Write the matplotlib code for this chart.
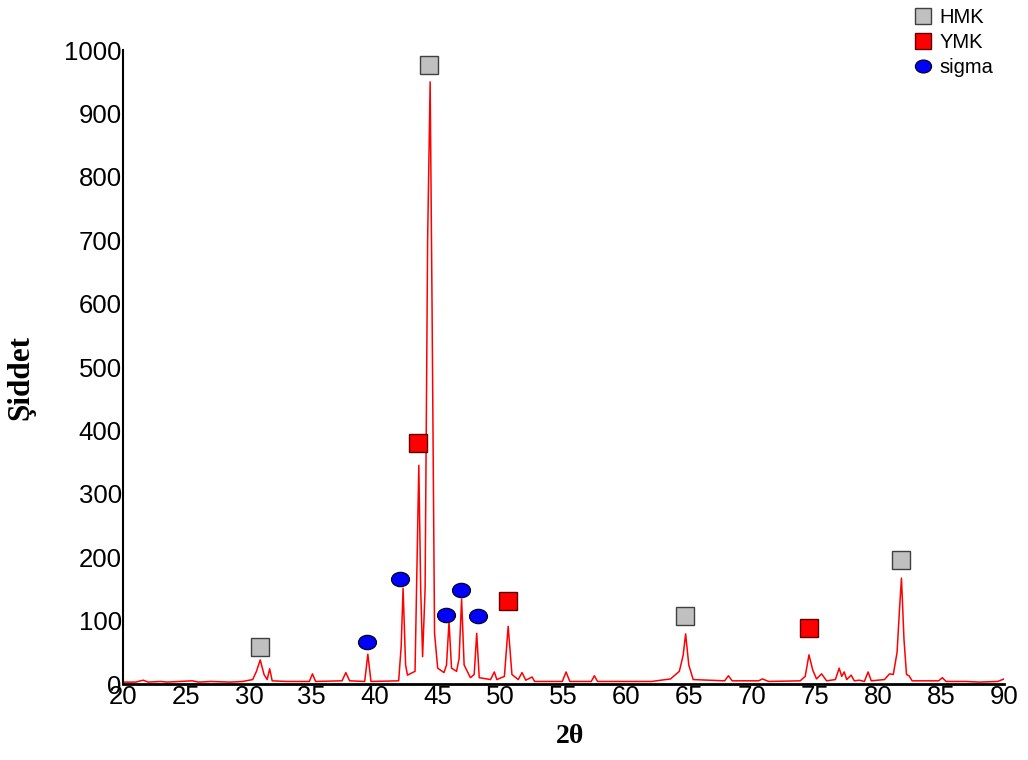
import numpy as np
import matplotlib
matplotlib.use("Agg")
import matplotlib.pyplot as plt
from matplotlib.path import Path

# XRD deseni (2theta, siddet) - resimden okunan noktalar
two_theta = [20.0, 21.0, 21.6, 22.0, 23.0, 23.5, 24.5, 25.5, 26.0, 27.0, 28.5, 29.5,
             30.3, 30.6, 30.9, 31.2, 31.45, 31.65, 31.85, 33.0, 34.8, 35.05, 35.3,
             37.4, 37.7, 38.0, 39.2, 39.45, 39.7, 41.9, 42.1, 42.25, 42.45, 42.6,
             43.2, 43.5, 43.65, 43.8, 44.0, 44.2, 44.4, 44.55, 44.75, 45.0, 45.5,
             45.7, 45.9, 46.1, 46.5, 46.7, 46.9, 47.1, 47.6, 47.9, 48.1, 48.3,
             49.2, 49.5, 49.7, 50.3, 50.6, 50.9, 51.4, 51.7, 52.0, 52.5, 52.7,
             54.9, 55.2, 55.5, 57.2, 57.45, 57.7, 60.0, 62.0, 63.5, 64.2, 64.5,
             64.7, 64.95, 65.3, 67.8, 68.1, 68.4, 70.5, 70.8, 71.3, 73.8, 74.2,
             74.5, 74.8, 75.1, 75.5, 75.9, 76.6, 76.9, 77.1, 77.3, 77.5, 77.85,
             78.1, 78.5, 78.9, 79.2, 79.45, 80.5, 80.9, 81.2, 81.5, 81.7, 81.85,
             82.05, 82.25, 82.45, 82.7, 84.8, 85.1, 85.4, 87.0, 88.0, 89.5, 90.0]
intensity = [3, 3, 6, 3, 4, 3, 4, 5, 3, 4, 3, 4,
             7, 20, 38, 15, 7, 24, 5, 4, 4, 16, 4,
             5, 18, 5, 4, 47, 4, 5, 60, 151, 30, 14,
             20, 345, 150, 43, 150, 700, 950, 600, 80, 25, 18,
             30, 98, 25, 20, 40, 134, 30, 10, 15, 80, 10,
             7, 19, 7, 12, 91, 15, 7, 18, 6, 11, 4,
             4, 19, 4, 4, 13, 4, 4, 4, 8, 20, 45,
             79, 30, 7, 5, 13, 5, 5, 8, 4, 5, 12,
             46, 22, 8, 16, 5, 7, 25, 12, 19, 7, 14,
             5, 6, 4, 19, 5, 7, 16, 15, 50, 120, 167,
             70, 15, 13, 5, 5, 10, 4, 4, 3, 4, 8]

# faz isaretleri
hmk_x = [30.9, 44.3, 64.65, 81.8]
hmk_y = [58, 976, 107, 196]
ymk_x = [43.45, 50.6, 74.5]
ymk_y = [380, 131, 88]
sigma_x = [39.4, 42.0, 45.65, 46.85, 48.2]
sigma_y = [66, 166, 109, 148, 107]

x_ticks = list(range(20, 91, 5))
y_ticks = list(range(0, 1001, 100))

# elips marker
circ = Path.unit_circle()
ellipse = Path(circ.vertices * np.array([1.0, 0.8]), circ.codes)

plt.rcParams['font.family'] = ['Liberation Sans', 'DejaVu Sans']

fig = plt.figure(figsize=(10.28, 7.6), dpi=100)
ax = fig.add_axes([0.1197, 0.1, 0.857, 0.834])

ax.plot(two_theta, intensity, color='red', linewidth=1.1)

ax.plot(hmk_x, hmk_y, linestyle='none', marker='s', markersize=12.5,
        markerfacecolor='#c0c0c0', markeredgecolor='#404040', markeredgewidth=1, label='HMK')
ax.plot(ymk_x, ymk_y, linestyle='none', marker='s', markersize=12.5,
        markerfacecolor='#ff0000', markeredgecolor='#600000', markeredgewidth=1, label='YMK')
ax.plot(sigma_x, sigma_y, linestyle='none', marker=ellipse, markersize=13,
        markerfacecolor='#0000ff', markeredgecolor='black', markeredgewidth=0.8, label='sigma')

ax.set_xlim(20, 90)
ax.set_ylim(0, 1000)
ax.set_xticks(x_ticks)
ax.set_yticks(y_ticks)
ax.tick_params(axis='both', labelsize=18.5, length=0, pad=1)

for s in ['top', 'right']:
    ax.spines[s].set_visible(False)
ax.spines['left'].set_linewidth(1.5)
ax.spines['bottom'].set_linewidth(2)

ax.set_ylabel('Şiddet', fontsize=22.5, fontweight='bold', family='Liberation Serif')
ax.set_xlabel('2θ', fontsize=20, fontweight='bold', family='Liberation Serif')
ax.yaxis.set_label_coords(-0.1, 0.483)
ax.xaxis.set_label_coords(0.507, -0.063)

ax.legend(loc='upper left', bbox_to_anchor=(0.874, 1.008), bbox_transform=fig.transFigure,
          frameon=False, fontsize=14.5, handlelength=1.0, handletextpad=0.35,
          labelspacing=0.3, borderpad=0.2, markerscale=0.9)

fig.savefig('out.png', dpi=100)
